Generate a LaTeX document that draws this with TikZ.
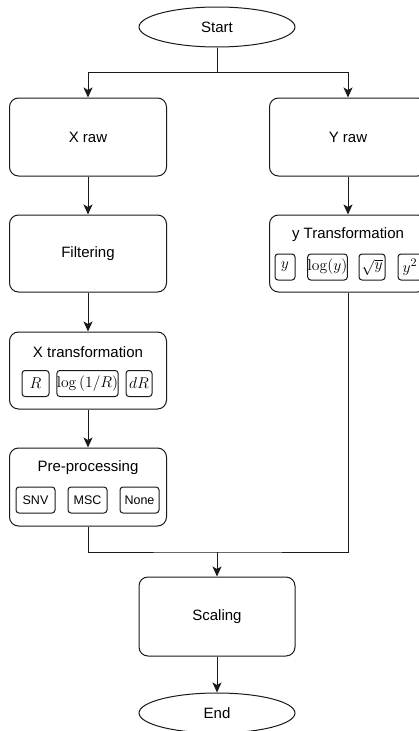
\documentclass[tikz,border=0pt]{standalone}
\usepackage[no-math]{fontspec}
\setmainfont{Liberation Sans}
\usetikzlibrary{shapes.geometric,arrows.meta}

% math labels inside the option boxes, enlarged from 10pt
\newcommand{\optmath}[1]{\scalebox{1.3}{$#1$}}

\tikzset{
  every picture/.style={x=1pt,y=-1pt},
  line/.style={draw=black!90,line width=1pt},
  arr/.style={line,-{Stealth[width=9pt,length=10pt,inset=2.5pt]}},
  term/.style={ellipse,line,minimum width=156pt,minimum height=40pt,inner sep=0pt,
    font=\fontsize{15}{18}\selectfont,text=black},
  stepbox/.style={rectangle,rounded corners=9pt,line,minimum width=157pt,minimum height=78pt,
    inner sep=0pt,font=\fontsize{15}{18}\selectfont,text=black},
  boxtitle/.style={inner sep=0pt,font=\fontsize{15}{18}\selectfont,text=black},
  opt/.style={rectangle,rounded corners=3pt,line,minimum height=26pt,inner sep=0pt,
    font=\fontsize{12.5}{15}\selectfont,text=black},
  mopt/.style={opt},
}

\begin{document}
\begin{tikzpicture}
\useasboundingbox (0,0) rectangle (418,731);

% terminals
\node[term] (start) at (217,27) {Start};
\node[term] (end) at (217,713) {End};

% left column
\node[stepbox] (xraw) at (88,137) {X raw};
\node[stepbox,minimum height=77pt] (filt) at (88,253.5) {Filtering};
\node[stepbox,minimum height=77pt] (xtr) at (88,370.5) {};
\node[boxtitle] (xtrt) at (88,352) {X transformation};
\node[mopt,minimum width=27pt] (xr) at (35.5,383.5) {\optmath{R}};
\node[mopt,minimum width=59pt] (xlog) at (87.5,383.5) {\optmath{\log\left(1/R\right)}};
\node[mopt,minimum width=26pt] (xdr) at (139,383.5) {\optmath{dR}};

\node[stepbox] (pre) at (88,487) {};
\node[boxtitle] (pret) at (88,468) {Pre-processing};
\node[opt,minimum width=39pt] (snv) at (35.5,500) {SNV};
\node[opt,minimum width=39pt] (msc) at (87.5,500) {MSC};
\node[opt,minimum width=39pt] (none) at (139.5,500) {None};

% right column
\node[stepbox] (yraw) at (348,137) {Y raw};
\node[stepbox,minimum height=77pt] (ytr) at (348,253.5) {};
\node[boxtitle] (ytrt) at (348,235) {y Transformation};
\node[mopt,minimum width=20pt] (yid) at (285,267) {\optmath{y}};
\node[mopt,minimum width=39pt] (ylog) at (327.5,267) {\optmath{\log(y)}};
\node[mopt,minimum width=26pt] (ysqrt) at (372,267) {\optmath{\sqrt{y}}};
\node[mopt,minimum width=24pt] (ysq) at (410,267) {\optmath{y^2}};

% bottom
\node[stepbox,minimum width=156pt,minimum height=79pt] (scal) at (217,616.5) {Scaling};

% connectors
\coordinate (split) at (217,72);
\coordinate (merge) at (217,552);
\draw[line] (start.south) -- (split);
\draw[arr] (split) -| (xraw.north);
\draw[arr] (split) -| (yraw.north);
\draw[arr] (xraw) -- (filt);
\draw[arr] (filt) -- (xtr);
\draw[arr] (xtr) -- (pre);
\draw[arr] (yraw) -- (ytr);
\draw[line] (pre.south) |- (merge) -| (ytr.south);
\draw[arr] (merge) -- (scal.north);
\draw[arr] (scal) -- (end);
\end{tikzpicture}
\end{document}
